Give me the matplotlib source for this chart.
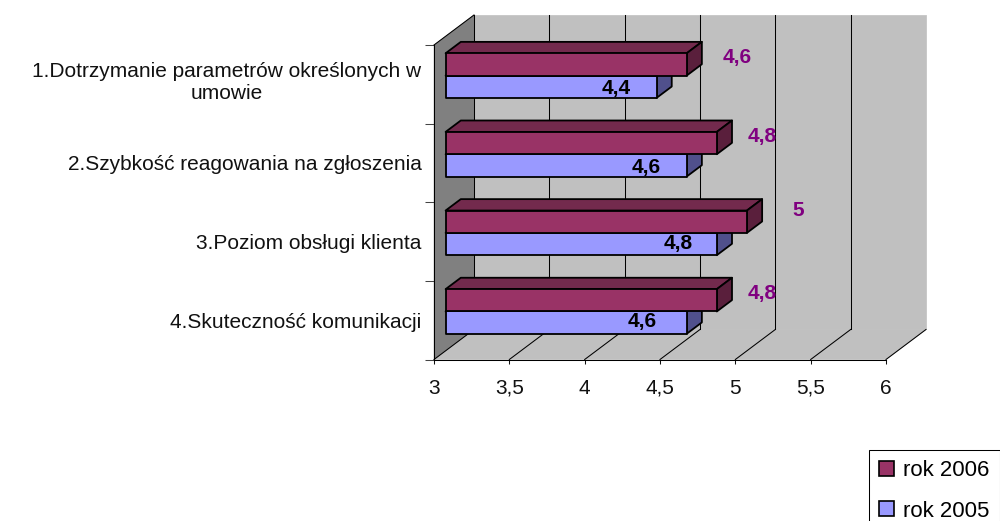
import matplotlib
matplotlib.use('Agg')
import matplotlib.pyplot as plt
from matplotlib.patches import Polygon, Patch
from matplotlib.transforms import ScaledTranslation

plt.rcParams['font.family'] = ['Liberation Sans', 'DejaVu Sans']

# Data
categories = [
    '1.Dotrzymanie parametrów określonych w\numowie',
    '2.Szybkość reagowania na zgłoszenia',
    '3.Poziom obsługi klienta',
    '4.Skuteczność komunikacji',
]
rok_2006 = [4.6, 4.8, 5.0, 4.8]
rok_2005 = [4.4, 4.6, 4.8, 4.6]
labels_2006 = ['4,6', '4,8', '5', '4,8']
labels_2005 = ['4,4', '4,6', '4,8', '4,6']
x_ticks = [3, 3.5, 4, 4.5, 5, 5.5, 6]
x_tick_labels = ['3', '3,5', '4', '4,5', '5', '5,5', '6']

# Colours
red, red_top, red_side = '#993366', '#732a4d', '#5a1f3c'
blue, blue_side = '#9999ff', '#50508c'
wall, left_wall = '#c0c0c0', '#808080'
purple = '#800080'

# Fake 3D depth, in data units
depth_x = 40 / 150.67
depth_y = -30 / 78.6
bar_h = 0.284

fig = plt.figure(figsize=(10, 5.21), dpi=100)
ax = fig.add_axes([0.434, (521 - 359.5) / 521, 0.452, 314.5 / 521])
ax.set_xlim(3, 6)
ax.set_ylim(4, 0)
ax.patch.set_visible(False)


def proj(x, y, d):
    return (x + d * depth_x, y + d * depth_y)


def poly(points, color, lw=0.0, edge='black', z=1):
    ax.add_patch(Polygon(points, closed=True, facecolor=color, edgecolor=edge,
                         linewidth=lw, clip_on=False, zorder=z, joinstyle='round'))


def draw_bar(value, y0, y1, front, top, side):
    d0, d1 = 0.29, 0.67
    poly([proj(3, y0, d0), proj(value, y0, d0), proj(value, y0, d1), proj(3, y0, d1)], top, 1.3, z=3)
    poly([proj(value, y0, d0), proj(value, y1, d0), proj(value, y1, d1), proj(value, y0, d1)], side, 1.3, z=3)
    poly([proj(3, y0, d0), proj(value, y0, d0), proj(value, y1, d0), proj(3, y1, d0)], front, 1.3, z=3)


# Walls and floor
poly([proj(3, 0, 1), proj(6, 0, 1), proj(6, 4, 1), proj(3, 4, 1)], wall, 0.5, wall)
poly([(3, 4), (6, 4), proj(6, 4, 1), proj(3, 4, 1)], wall, 0.5, wall)
poly([(3, 0), proj(3, 0, 1), proj(3, 4, 1), (3, 4)], left_wall, 0.3, left_wall)

# Grid lines on floor and back wall
for t in x_ticks:
    bx, by = proj(t, 4, 1)
    ax.plot([t, bx], [4, by], color='black', lw=0.75, clip_on=False, zorder=2)
    if t < 6:
        tx, ty = proj(t, 0, 1)
        ax.plot([bx, tx], [by, ty], color='black', lw=0.75, clip_on=False, zorder=2)
tx0, ty0 = proj(3, 0, 1)
ax.plot([3, tx0], [0, ty0], color='black', lw=0.75, clip_on=False, zorder=2)

# Bars
for i in range(len(categories)):
    mid = i + 0.5
    draw_bar(rok_2005[i], mid, mid + bar_h, blue, blue, blue_side)
    draw_bar(rok_2006[i], mid - bar_h, mid, red, red_top, red_side)

# Value labels
red_offset = [0.41, 0.38, 0.42, 0.38]
red_shift = [-0.34, -0.33, -0.40, -0.34]
blue_offset = [-0.193, -0.19, -0.18, -0.22]
blue_shift = [0.0, 0.01, -0.02, -0.03]
for i in range(len(categories)):
    mid = i + 0.5
    ax.text(rok_2006[i] + red_offset[i], mid + red_shift[i], labels_2006[i], color=purple,
            fontsize=15, fontweight='bold', ha='center', va='center', zorder=5)
    ax.text(rok_2005[i] + blue_offset[i], mid + 0.05 + blue_shift[i], labels_2005[i], color='black',
            fontsize=15, fontweight='bold', ha='center', va='center', zorder=5)

# Axes
ax.set_xticks(x_ticks)
ax.set_xticklabels(x_tick_labels, fontsize=15, va='baseline')
ax.tick_params(axis='x', length=3, width=0.75, pad=21.7, colors='#111111')
ax.set_yticks(range(5))
ax.set_yticklabels([])
ax.tick_params(axis='y', which='major', length=6.5, width=0.75, color='#444444')
ax.set_yticks([i + 0.5 for i in range(4)], minor=True)
ax.set_yticklabels(categories, minor=True, fontsize=15, multialignment='center')
ax.tick_params(axis='y', which='minor', length=0, pad=9, labelcolor='#111111')
first = ax.get_yticklabels(minor=True)[0]
first.set_transform(first.get_transform() + ScaledTranslation(0, 5 / 100, fig.dpi_scale_trans))
for side in ['top', 'right']:
    ax.spines[side].set_visible(False)
ax.spines['left'].set_linewidth(0.75)
ax.spines['bottom'].set_linewidth(0.75)
ax.spines['left'].set_zorder(4)
ax.spines['bottom'].set_zorder(4)

# Legend
handles = [Patch(facecolor=red, edgecolor='black', linewidth=1.2, label='rok 2006'),
           Patch(facecolor=blue, edgecolor='black', linewidth=1.2, label='rok 2005')]
leg = ax.legend(handles=handles, loc='upper left', bbox_to_anchor=(0.869, 1 - 449.5 / 521),
                bbox_transform=fig.transFigure, fontsize=16, fancybox=False, framealpha=1,
                edgecolor='black', handlelength=0.675, handleheight=0.675, handletextpad=0.4,
                labelspacing=0.885, borderpad=0.47, borderaxespad=0)
leg.get_frame().set_linewidth(0.75)

fig.savefig('out.png', dpi=100)
